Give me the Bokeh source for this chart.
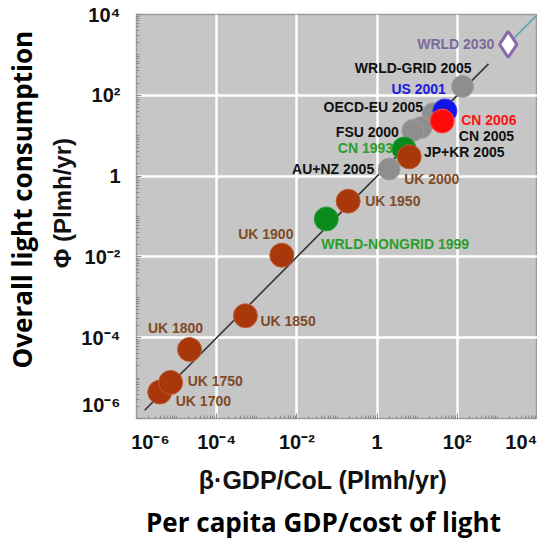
from bokeh.plotting import figure
from bokeh.models import Range1d, Label, FixedTicker, LogAxis
from bokeh.embed import file_html
from bokeh.resources import INLINE

# ---------------- data ----------------
# beta*GDP/CoL (x) and Phi (y), both in Plmh/yr
gray_names = ["WRLD-GRID 2005", "OECD-EU 2005", "CN 2005", "FSU 2000", "JP+KR 2005", "AU+NZ 2005"]
gray_x = [135, 25, 12.3, 7.8, 6.6, 2.0]
gray_y = [166, 35, 15.8, 13.5, 3.3, 1.5]

green_names = ["CN 1993", "WRLD-NONGRID 1999"]
green_x = [4.7, 0.054]
green_y = [4.7, 0.087]

uk_names = ["UK 1700", "UK 1750", "UK 1800", "UK 1850", "UK 1900", "UK 1950", "UK 2000"]
uk_x = [3.8e-6, 7.1e-6, 2.1e-5, 5.2e-4, 4.2e-3, 0.19, 6.3]
uk_y = [4.5e-6, 7.8e-6, 5.1e-5, 3.5e-4, 1.1e-2, 0.24, 3.0]

us_names = ["US 2001"]
us_x = [49]
us_y = [41]

cn_names = ["CN 2006"]
cn_x = [42]
cn_y = [23]

w2030_names = ["WRLD 2030"]
w2030_x = [1860]
w2030_y = [1820]

# trend line Phi = beta*GDP/CoL (history part and projection part)
trend_x = [1.6e-6, 600]
proj_x = [1860, 1.0e4]

tick_vals = [1e-6, 1e-4, 1e-2, 1, 1e2, 1e4]
tick_labels = ["10⁻⁶", "10⁻⁴", "10⁻²", "1", "10²", "10⁴"]
grid_vals = [1e-4, 1e-2, 1, 1e2]

x_title = "β·GDP/CoL (Plmh/yr)"
y_title = "Φ (Plmh/yr)"
x_outer = "Per capita GDP/cost of light"
y_outer = "Overall light consumption"

# ---------------- layout / style ----------------
W, H = 537, 542
NB = "\u00a0"  # non-breaking space, used to nudge texts along their axis
TF = "Liberation Sans"
OS = "Open Sans"

p = figure(width=W, height=H, x_axis_type="log", y_axis_type="log",
           x_range=Range1d(1e-6, 1e4), y_range=Range1d(1e-6, 1e4),
           output_backend="svg", toolbar_location=None,
           min_border_left=133, min_border_right=0, min_border_top=14, min_border_bottom=116,
           background_fill_color="#c6c6c6", border_fill_color="white")
p.outline_line_color = "#9c9c9c"
p.outline_line_width = 1.5

minor = [m * 10 ** e for e in range(-7, 5) for m in range(1, 10) if not (m == 1 and e % 2 == 0)]

xa, ya = p.xaxis[0], p.yaxis[0]
for ax in (xa, ya):
    ax.ticker = FixedTicker(ticks=tick_vals, minor_ticks=minor)
    ax.major_tick_in = 5
    ax.major_tick_out = 0
    ax.minor_tick_in = 3
    ax.minor_tick_out = 0
    ax.major_tick_line_color = "#8a8a8a"
    ax.minor_tick_line_color = "#8a8a8a"
    ax.axis_line_color = "#9c9c9c"
    ax.major_label_text_font = TF
    ax.major_label_text_font_style = "bold"
    ax.major_label_text_font_size = "20px"
    ax.major_label_text_color = "#111111"
    ax.axis_label_text_font = TF
    ax.axis_label_text_font_style = "bold"
    ax.axis_label_text_color = "#111111"

x_over = dict(zip(tick_vals, tick_labels))
x_over[tick_vals[0]] = NB * 5 + tick_labels[0]
xa.major_label_overrides = x_over
xa.major_label_standoff = 12
xa.axis_label = x_title + NB * 4
xa.axis_label_standoff = 10
xa.axis_label_text_font_size = "25px"

y_over = dict(zip(tick_vals, tick_labels))
y_over[tick_vals[0]] = tick_labels[0] + "\n" + NB
ya.major_label_overrides = y_over
ya.major_label_standoff = 16
ya.axis_label = NB * 4 + y_title
ya.axis_label_standoff = 2
ya.axis_label_text_font_size = "24px"

# outer titles as label-only axes
xo_ax = LogAxis(ticker=FixedTicker(ticks=[]), axis_label=x_outer + NB * 4, axis_label_standoff=7,
                axis_line_color=None, major_tick_line_color=None, minor_tick_line_color=None,
                axis_label_text_font=OS, axis_label_text_font_style="bold",
                axis_label_text_font_size="26px", axis_label_text_color="black")
p.add_layout(xo_ax, "below")
yo_ax = LogAxis(ticker=FixedTicker(ticks=[]), axis_label=NB * 5 + y_outer, axis_label_standoff=7,
                axis_line_color=None, major_tick_line_color=None, minor_tick_line_color=None,
                axis_label_text_font=OS, axis_label_text_font_style="bold",
                axis_label_text_font_size="26px", axis_label_text_color="black")
p.add_layout(yo_ax, "left")

p.xgrid.ticker = FixedTicker(ticks=grid_vals)
p.ygrid.ticker = FixedTicker(ticks=grid_vals)
for g in (p.xgrid[0], p.ygrid[0]):
    g.grid_line_color = "white"
    g.grid_line_width = 2.5

# trend lines
p.line(trend_x, trend_x, line_color="#333333", line_width=1.6)
p.line(proj_x, proj_x, line_color="#5aa6a6", line_width=1.6)

S = 24
p.scatter(gray_x, gray_y, size=22, marker="circle", fill_color="#8e8e8e", line_color="#a0a0a0", line_width=1)
p.scatter(green_x, green_y, size=S, marker="circle", fill_color="#0b8a1c", line_color="#2aa040", line_width=1)
p.scatter(uk_x, uk_y, size=S, marker="circle", fill_color="#a8380c", line_color="#c05a30", line_width=1)
p.scatter(us_x, us_y, size=S, marker="circle", fill_color="#1414e6", line_color="#3a3af0", line_width=1)
p.scatter(cn_x, cn_y, size=S, marker="circle", fill_color="#ff0a0a", line_color="#ff5050", line_width=1)
p.scatter(w2030_x, w2030_y, size=26, marker="diamond", fill_color="white", line_color="#8a6aaa", line_width=3)

# point labels: (align, dx, dy) in screen pixels
lab_layout = {
    "WRLD 2030": ("right", -14, 0), "WRLD-GRID 2005": ("right", 9, 18), "US 2001": ("right", 1, 22),
    "OECD-EU 2005": ("right", -10, 7), "CN 2006": ("left", 19, 1), "FSU 2000": ("right", -14, -2),
    "CN 2005": ("left", 38, -8), "CN 1993": ("right", -11, 1), "JP+KR 2005": ("left", 14, 3),
    "AU+NZ 2005": ("right", -15, 0), "UK 2000": ("left", -5, -22), "UK 1950": ("left", 17, 0),
    "WRLD-NONGRID 1999": ("left", -5, -25), "UK 1900": ("center", -16, 21), "UK 1850": ("left", 15, -5),
    "UK 1800": ("center", -14, 22), "UK 1750": ("left", 17, 1), "UK 1700": ("left", 16, -9),
}
groups = [
    (gray_names, gray_x, gray_y, "#111111"),
    (green_names, green_x, green_y, "#2a9e2a"),
    (uk_names, uk_x, uk_y, "#804a28"),
    (us_names, us_x, us_y, "#1a1ae0"),
    (cn_names, cn_x, cn_y, "#ff1010"),
    (w2030_names, w2030_x, w2030_y, "#7a6a9c"),
]
for names, xs, ys, col in groups:
    for n, x, y in zip(names, xs, ys):
        al, dx, dy = lab_layout[n]
        p.add_layout(Label(x=x, y=y, text=n, x_offset=dx, y_offset=dy, text_align=al,
                           text_baseline="middle", text_color=col, text_font=TF,
                           text_font_style="bold", text_font_size="14px"))

open("out.html", "w").write(file_html(p, INLINE))
